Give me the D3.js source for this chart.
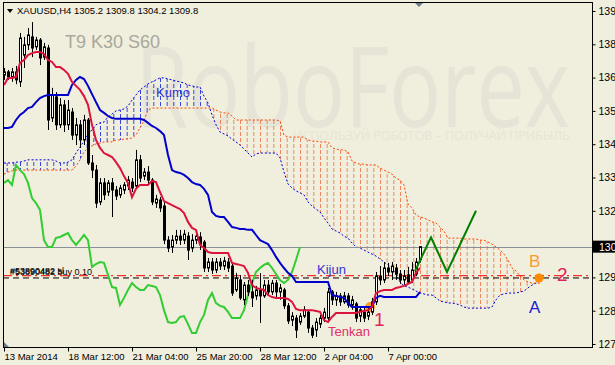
<!DOCTYPE html>
<html><head><meta charset="utf-8">
<script src="https://cdn.jsdelivr.net/npm/d3@7"></script>
<style>body{margin:0;background:#F0EEDC;} svg{display:block}</style>
</head><body>
<svg id="c" width="615" height="365"></svg>
<script>
const symbolTitle = "XAUUSD,H4  1305.2 1309.8 1304.2 1309.8";
const xTickBars = [0,16,32,48,64,80,96];
const xTickLabels = ["13 Mar 2014","18 Mar 12:00","21 Mar 04:00","25 Mar 20:00","28 Mar 12:00","2 Apr 04:00","7 Apr 00:00"];
const yTickValues = [1392.6,1380.9,1369.2,1357.5,1345.8,1334.1,1322.4,1298.999,1287.3,1275.6];
const yTickLabels = ["1392","1381","1369","1358","1346","1334","1322","1298","1286","1275"];
const currentPrice = 1309.8;
const slPrice = 1299.6;
const orderPrice = 1298.8;

const opens  = [1370.1,1371.2,1369.4,1371.2,1367.7,1377.1,1380.7,1383.5,1380.0,1382.4,1376.4,1379.6,1355.0,1362.4,1352.6,1359.6,1352.6,1357.1,1349.0,1352.6,1347.3,1354.3,1339.2,1336.7,1325.5,1332.2,1329.0,1332.2,1329.7,1328.0,1329.7,1331.1,1332.5,1331.1,1340.3,1334.6,1336.0,1333.2,1325.1,1326.2,1324.1,1312.1,1309.7,1312.1,1313.5,1312.1,1313.5,1309.3,1312.1,1313.2,1311.4,1302.3,1304.4,1301.6,1304.4,1303.0,1304.4,1303.0,1294.6,1298.1,1291.1,1296.3,1293.9,1292.5,1294.6,1292.5,1296.3,1293.9,1297.0,1293.9,1294.6,1289.0,1284.0,1284.7,1283.3,1285.4,1286.8,1281.2,1280.5,1282.6,1284.7,1284.7,1293.9,1291.1,1292.5,1290.4,1292.5,1289.3,1289.7,1285.4,1286.8,1285.4,1286.8,1290.4,1299.5,1298.1,1302.3,1300.9,1302.3,1300.2,1298.1,1299.9,1298.1,1300.2,1305.2];
const highs  = [1372.6,1371.9,1372.6,1373.3,1384.9,1383.5,1386.6,1388.7,1383.5,1383.1,1381.4,1380.7,1365.6,1364.1,1362.0,1361.3,1361.3,1358.5,1355.0,1354.3,1356.1,1355.0,1342.0,1338.5,1333.9,1333.9,1333.2,1333.9,1331.1,1331.5,1332.5,1334.6,1333.9,1343.8,1342.0,1337.4,1338.1,1333.9,1328.0,1327.2,1325.5,1313.5,1313.9,1315.7,1315.7,1315.7,1314.9,1314.2,1315.7,1314.9,1312.1,1305.8,1305.8,1305.8,1305.8,1306.2,1305.8,1304.1,1300.6,1299.8,1297.4,1298.1,1298.1,1296.0,1300.5,1298.1,1298.1,1298.1,1298.1,1296.7,1295.3,1290.0,1286.8,1285.8,1286.5,1288.9,1287.6,1282.3,1284.7,1285.8,1288.3,1295.3,1294.6,1293.9,1293.5,1293.9,1293.5,1292.5,1290.4,1288.9,1288.3,1288.3,1291.8,1300.9,1303.0,1304.4,1304.1,1304.4,1303.7,1301.6,1301.6,1302.7,1304.4,1305.8,1309.8];
const lows   = [1368.4,1368.4,1367.7,1366.9,1365.9,1372.6,1378.9,1376.4,1378.9,1373.6,1375.4,1350.8,1353.6,1350.8,1351.5,1350.1,1350.8,1347.3,1345.5,1344.5,1345.5,1338.5,1333.9,1323.4,1324.4,1326.2,1327.6,1320.2,1326.2,1326.9,1328.3,1329.7,1329.0,1330.4,1332.5,1333.2,1331.8,1324.4,1323.4,1322.0,1310.7,1307.9,1307.6,1310.7,1310.4,1310.7,1305.1,1307.9,1310.7,1308.6,1300.9,1300.9,1300.2,1300.5,1301.6,1301.6,1300.9,1292.5,1293.9,1291.1,1289.3,1292.5,1288.6,1291.1,1283.0,1291.8,1292.5,1292.8,1291.8,1291.1,1287.9,1282.6,1281.9,1277.7,1282.3,1284.7,1279.5,1277.7,1278.1,1281.2,1283.3,1283.3,1289.3,1289.0,1289.0,1289.7,1288.3,1287.6,1283.3,1283.3,1283.3,1284.0,1285.8,1289.3,1296.3,1297.0,1299.5,1298.1,1298.1,1296.7,1296.3,1296.7,1297.0,1299.5,1304.2];
const closes = [1371.2,1369.4,1371.2,1368.4,1383.1,1380.7,1384.2,1379.6,1382.4,1376.1,1380.0,1354.3,1363.1,1352.6,1359.6,1352.6,1357.8,1349.0,1352.6,1347.3,1354.3,1339.2,1336.7,1325.1,1332.2,1328.0,1332.2,1329.7,1327.6,1330.4,1331.5,1333.2,1330.4,1340.3,1333.9,1336.0,1333.2,1325.5,1326.5,1323.4,1312.1,1309.3,1312.1,1313.5,1312.1,1314.2,1308.6,1312.1,1313.5,1310.7,1302.3,1304.4,1301.6,1304.4,1303.0,1304.8,1302.3,1293.5,1298.8,1291.8,1296.3,1293.9,1291.8,1294.6,1292.5,1296.3,1293.9,1297.0,1293.9,1295.3,1289.0,1283.7,1285.4,1280.5,1285.4,1287.6,1281.2,1278.7,1283.3,1284.7,1286.8,1293.9,1291.1,1292.5,1290.4,1292.5,1289.3,1291.1,1284.7,1287.6,1284.7,1286.8,1290.4,1299.5,1298.1,1302.3,1300.9,1303.0,1300.2,1298.1,1299.5,1297.4,1301.6,1304.4,1309.8];

const tenkan = [1366.6,1369.1,1369.1,1369.4,1374.3,1375.4,1377.1,1377.8,1378.2,1378.2,1377.5,1375.4,1374.7,1372.9,1372.9,1371.9,1370.5,1367.7,1366.3,1364.9,1362.7,1359.6,1352.6,1347.3,1344.5,1342.7,1342.0,1341.3,1339.5,1337.4,1334.6,1332.2,1327.2,1330.1,1331.5,1331.5,1331.5,1332.9,1332.5,1329.0,1325.8,1325.1,1324.4,1323.7,1323.0,1321.6,1318.5,1316.4,1315.7,1310.4,1309.3,1307.9,1307.6,1307.6,1307.6,1307.6,1307.6,1304.1,1303.7,1303.4,1303.0,1300.6,1296.3,1295.3,1294.9,1294.6,1292.8,1292.1,1291.8,1291.8,1291.8,1291.4,1290.4,1287.9,1287.5,1287.5,1287.5,1287.5,1287.2,1286.9,1284.0,1283.3,1285.1,1286.5,1286.5,1286.5,1286.5,1286.5,1286.5,1286.9,1287.2,1287.5,1288.6,1293.5,1294.2,1294.6,1294.6,1294.6,1295.3,1295.6,1296.0,1296.7,1297.4,1300.6,1302.3];
const kijun = [1351.5,1351.5,1351.9,1354.3,1356.1,1357.1,1358.5,1358.9,1360.6,1362.0,1362.7,1363.1,1363.1,1363.1,1363.1,1363.1,1363.1,1366.6,1368.4,1369.4,1368.7,1366.3,1363.4,1360.6,1357.8,1356.8,1355.7,1355.0,1354.7,1354.7,1354.7,1354.7,1354.7,1354.7,1354.7,1354.3,1353.3,1352.2,1351.5,1350.4,1349.0,1342.0,1336.7,1336.0,1335.7,1335.0,1333.9,1332.5,1331.8,1331.5,1330.1,1328.0,1322.0,1320.6,1320.2,1320.2,1318.5,1316.7,1316.4,1316.0,1316.0,1315.7,1315.7,1313.9,1312.1,1311.4,1310.7,1308.6,1306.2,1304.1,1302.3,1300.6,1299.5,1297.4,1297.4,1297.4,1297.4,1297.4,1297.4,1297.4,1297.4,1297.4,1292.8,1292.5,1292.1,1291.8,1290.0,1288.6,1288.6,1288.6,1288.6,1288.6,1288.6,1291.8,1292.5,1292.1,1292.1,1292.1,1292.1,1292.1,1292.1,1292.1,1292.1,1292.1,1293.9];
const chikou = [1332.2,1333.2,1331.5,1338.5,1336.7,1335.3,1332.2,1326.9,1325.1,1322.7,1312.1,1309.7,1309.7,1312.9,1313.2,1313.9,1314.6,1312.1,1310.4,1312.1,1313.9,1312.1,1302.7,1303.7,1304.4,1304.1,1299.9,1295.6,1295.3,1289.3,1291.8,1294.6,1297.0,1295.6,1294.6,1294.6,1296.3,1296.0,1295.6,1292.8,1287.5,1283.3,1283.0,1283.3,1285.1,1285.4,1282.6,1279.5,1279.5,1283.3,1285.8,1291.1,1293.5,1290.0,1289.0,1288.6,1286.9,1284.7,1284.7,1284.7,1287.5,1292.8,1297.0,1300.9,1302.3,1303.4,1304.1,1302.3,1300.2,1298.1,1297.0,1298.1,1300.9,1305.1,1309.7];
const senkouA = [1339.2,1339.2,1339.2,1339.5,1339.5,1339.9,1340.3,1340.3,1340.3,1340.3,1340.3,1340.3,1340.3,1339.9,1339.2,1339.2,1339.5,1340.3,1342.7,1344.8,1346.9,1349.7,1350.8,1352.6,1353.3,1353.6,1355.4,1356.4,1357.5,1357.8,1358.2,1359.2,1361.3,1363.1,1364.9,1365.9,1367.0,1367.7,1368.4,1369.1,1369.1,1368.7,1368.4,1368.0,1367.7,1367.3,1366.6,1366.3,1365.9,1365.9,1362.7,1360.3,1356.1,1352.6,1350.1,1349.4,1348.7,1347.6,1346.6,1345.5,1344.1,1342.7,1341.3,1342.4,1342.7,1342.7,1342.7,1342.7,1342.7,1341.0,1336.0,1331.8,1330.4,1329.4,1328.7,1328.0,1325.5,1324.1,1323.0,1322.0,1319.9,1318.1,1316.0,1315.3,1314.6,1313.5,1312.8,1311.1,1309.7,1309.3,1308.6,1307.9,1307.2,1306.5,1305.5,1304.4,1303.4,1302.3,1299.9,1297.4,1296.0,1295.6,1294.9,1294.2,1293.5,1293.2,1292.8,1292.8,1291.8,1290.7,1290.4,1290.0,1290.0,1289.7,1289.3,1288.6,1288.2,1288.2,1288.2,1288.2,1288.2,1288.2,1288.6,1291.1,1292.8,1293.2,1293.5,1293.5,1293.5,1293.9,1294.2,1295.3,1296.3,1297.0,1297.7];
const senkouB = [1335.3,1336.0,1336.4,1336.7,1336.7,1336.7,1336.7,1336.7,1336.7,1336.7,1336.7,1336.7,1336.7,1336.7,1336.7,1336.7,1336.7,1336.7,1338.1,1340.3,1343.1,1344.5,1345.2,1345.9,1346.2,1346.6,1346.6,1346.6,1347.3,1347.3,1347.6,1347.6,1348.0,1349.0,1351.5,1354.0,1357.8,1358.5,1358.5,1358.5,1358.5,1358.5,1358.5,1358.5,1358.5,1358.5,1358.5,1358.5,1358.5,1358.5,1358.5,1358.5,1358.5,1357.8,1357.1,1356.8,1356.8,1355.7,1354.3,1354.3,1354.3,1354.3,1354.3,1354.3,1354.3,1354.3,1354.3,1354.3,1354.3,1354.0,1349.0,1348.3,1348.3,1348.3,1348.3,1348.3,1347.3,1346.9,1346.9,1346.6,1346.6,1346.6,1344.5,1344.1,1343.8,1343.8,1343.1,1339.9,1339.2,1338.8,1338.8,1338.5,1338.5,1338.5,1337.4,1336.7,1336.0,1335.3,1333.9,1333.2,1331.5,1324.8,1323.4,1320.9,1320.2,1319.9,1319.2,1318.5,1318.1,1316.7,1315.3,1312.8,1312.8,1312.8,1312.8,1312.5,1312.5,1312.5,1312.5,1312.1,1312.1,1311.4,1310.7,1309.7,1308.6,1307.2,1305.1,1302.3,1301.3,1299.5,1298.1,1297.4,1297.0,1297.0,1297.0];

const forecastBars = [102.75, 106.75, 110.75, 118];
const forecastPrices = [1301.2, 1313.1, 1300.9, 1322.4];

const svg = d3.select("#c");
const FONT = "Liberation Sans, Arial, sans-serif";
const plot = {l:3, t:2, r:592, b:347};
const x = d3.scaleLinear().domain([0,1]).range([4,8]);
const y = d3.scaleLinear().domain([1392.6,1275.6]).range([11,344]);

svg.append("rect").attr("width",615).attr("height",365).attr("fill","#F0EEDC");
const defs = svg.append("defs");
defs.append("clipPath").attr("id","pc").append("rect")
  .attr("x",plot.l).attr("y",plot.t).attr("width",plot.r-plot.l).attr("height",plot.b-plot.t);
function hatchPattern(id,color){
  const p = defs.append("pattern").attr("id",id).attr("patternUnits","userSpaceOnUse")
    .attr("width",20/3).attr("height",6);
  p.append("rect").attr("x",0).attr("y",0).attr("width",1).attr("height",3.5)
    .attr("fill",color).attr("shape-rendering","crispEdges");
}
hatchPattern("hb","#2F3FE6");
hatchPattern("ho","#F2825A");

// watermark
svg.append("text").attr("x",135).attr("y",127).attr("font-family","Open Sans, Liberation Sans, sans-serif")
  .attr("font-size",112).attr("fill","#E5E4D7").attr("textLength",435).attr("lengthAdjust","spacingAndGlyphs").text("RoboForex");
svg.append("text").attr("x",293).attr("y",140).attr("font-family","Open Sans, Liberation Sans, sans-serif")
  .attr("font-size",13).attr("fill","#E6E5D8").attr("textLength",277).attr("lengthAdjust","spacingAndGlyphs").text("ИСПОЛЬЗУЙ РОБОТОВ – ПОЛУЧАЙ ПРИБЫЛЬ");
svg.append("text").attr("x",65).attr("y",48).attr("font-family",FONT)
  .attr("font-size",18).attr("fill","#A8A89C").text("T9 K30 S60");

const g = svg.append("g").attr("clip-path","url(#pc)");

// cloud hatching (area between Senkou A and B)
const idx = senkouA.map((d,i)=>i);
g.append("path").datum(idx)
  .attr("d", d3.area().x(i=>x(i)).y0(i=>y(senkouB[i])).y1(i=>y(Math.max(senkouA[i],senkouB[i]))))
  .attr("fill","url(#hb)");
g.append("path").datum(idx)
  .attr("d", d3.area().x(i=>x(i)).y0(i=>y(senkouA[i])).y1(i=>y(Math.max(senkouA[i],senkouB[i]))))
  .attr("fill","url(#ho)");
const lineGen = d3.line().x((d,i)=>x(i)).y(d=>y(d)).curve(d3.curveLinear);
g.append("path").datum(senkouA).attr("d",lineGen).attr("fill","none").attr("stroke","#0000E0").attr("stroke-width",1).attr("stroke-dasharray","2,2");
g.append("path").datum(senkouB).attr("d",lineGen).attr("fill","none").attr("stroke","#FF4500").attr("stroke-width",1).attr("stroke-dasharray","2,2");

// horizontal lines
g.append("line").attr("x1",plot.l).attr("x2",plot.r).attr("y1",Math.round(y(currentPrice))+0.5).attr("y2",Math.round(y(currentPrice))+0.5).attr("stroke","#8A9098");
g.append("line").attr("x1",plot.l).attr("x2",plot.r).attr("y1",y(slPrice)).attr("y2",y(slPrice)).attr("stroke","#FF0000").attr("stroke-dasharray","9,4,2,4");
g.append("line").attr("x1",plot.l).attr("x2",plot.r).attr("y1",y(orderPrice)).attr("y2",y(orderPrice)).attr("stroke","#000").attr("stroke-dasharray","6,4");
svg.append("text").attr("x",10).attr("y",274.5).attr("font-family",FONT).attr("font-size",9).text("#53890482 buy 0.10");
svg.append("text").attr("x",10).attr("y",273.5).attr("font-family",FONT).attr("font-size",9).text("#53890482 sl");

// chikou
g.append("path").datum(chikou).attr("d",lineGen).attr("fill","none").attr("stroke","#32CD32").attr("stroke-width",2);

// candles
const cg = g.append("g");
closes.forEach((c,i)=>{
  const o = opens[i], h = highs[i], l = lows[i];
  const cx = Math.round(x(i))+0.5;
  cg.append("line").attr("x1",cx).attr("x2",cx).attr("y1",y(h)).attr("y2",y(l)).attr("stroke","#000");
  const top = y(Math.max(o,c)), bot = y(Math.min(o,c));
  cg.append("rect").attr("x",cx-1).attr("y",top).attr("width",2).attr("height",Math.max(1,bot-top))
    .attr("fill", c>=o ? "#FFFFFF" : "#000").attr("stroke","#000").attr("stroke-width",1);
});

// tenkan, kijun
g.append("path").datum(kijun).attr("d",lineGen).attr("fill","none").attr("stroke","#0000CD").attr("stroke-width",2);
g.append("path").datum(tenkan).attr("d",lineGen).attr("fill","none").attr("stroke","#DC143C").attr("stroke-width",2);

// forecast zigzag
g.append("path").datum(forecastBars.map((b,i)=>[b,forecastPrices[i]]))
  .attr("d",d3.line().x(d=>x(d[0])).y(d=>y(d[1]))).attr("fill","none").attr("stroke","#008000").attr("stroke-width",2);

// markers
g.append("circle").attr("cx",x(91.5)).attr("cy",y(1288.6)).attr("r",5).attr("fill","#FF8C00").attr("opacity",0.8).lower();
g.append("circle").attr("cx",x(133.75)).attr("cy",y(1298.8)).attr("r",4.5).attr("fill","#FF8C00");

// labels
const lab = (t,xx,yy,fs,col)=>svg.append("text").attr("x",xx).attr("y",yy).attr("font-family",FONT).attr("font-size",fs).attr("fill",col).text(t);
lab("Kumo",156,97,13,"#3535D5");
lab("Kijun",317,274,13,"#3535D5");
lab("Tenkan",328,336,13,"#E02F6A");
lab("1",374,326,19,"#E0245A");
lab("2",557,281,19,"#E0245A");
lab("B",529,267,17,"#FF9A30");
lab("A",529,313,17,"#2020D0");

// frame
svg.append("rect").attr("x",plot.l+0.5).attr("y",plot.t+0.5).attr("width",plot.r-plot.l).attr("height",plot.b-plot.t).attr("fill","none").attr("stroke","#000");

// right axis
const yAxis = d3.axisRight(y).tickValues(yTickValues).tickFormat((d,i)=>yTickLabels[i]).tickSize(3).tickPadding(3);
const ya = svg.append("g").attr("transform",`translate(${plot.r+0.5},0)`).call(yAxis);
ya.select(".domain").remove();
ya.selectAll("text").attr("font-family",FONT).attr("font-size",10.5).attr("fill","#000");
ya.selectAll("line").attr("stroke","#000");

// current price tag
svg.append("rect").attr("x",plot.r+1).attr("y",y(currentPrice)-6).attr("width",615-plot.r).attr("height",12).attr("fill","#000");
svg.append("text").attr("x",599).attr("y",y(currentPrice)+4).attr("font-family",FONT).attr("font-size",10.5).attr("fill","#fff").text("1309");

// bottom axis
const xAxis = d3.axisBottom(x).tickValues(xTickBars).tickFormat((d,i)=>xTickLabels[i]).tickSize(4).tickPadding(2);
const xa = svg.append("g").attr("transform",`translate(0,${plot.b+0.5})`).call(xAxis);
xa.select(".domain").remove();
xa.selectAll("text").attr("text-anchor","start").attr("font-family",FONT).attr("font-size",9.5).attr("fill","#000");
xa.selectAll("line").attr("stroke","#000");

// title
svg.append("path").attr("d","M7,9 L13,9 L10,13 Z").attr("fill","#000");
lab(symbolTitle,17,14,9.5,"#000");
// shift markers
svg.append("path").attr("d","M415,3 L423,3 L419,7 Z").attr("fill","#6E7E8E");
svg.append("path").attr("d","M4,342 L4,347 L9,347 Z").attr("fill","#6E7E8E");
</script>
</body></html>
